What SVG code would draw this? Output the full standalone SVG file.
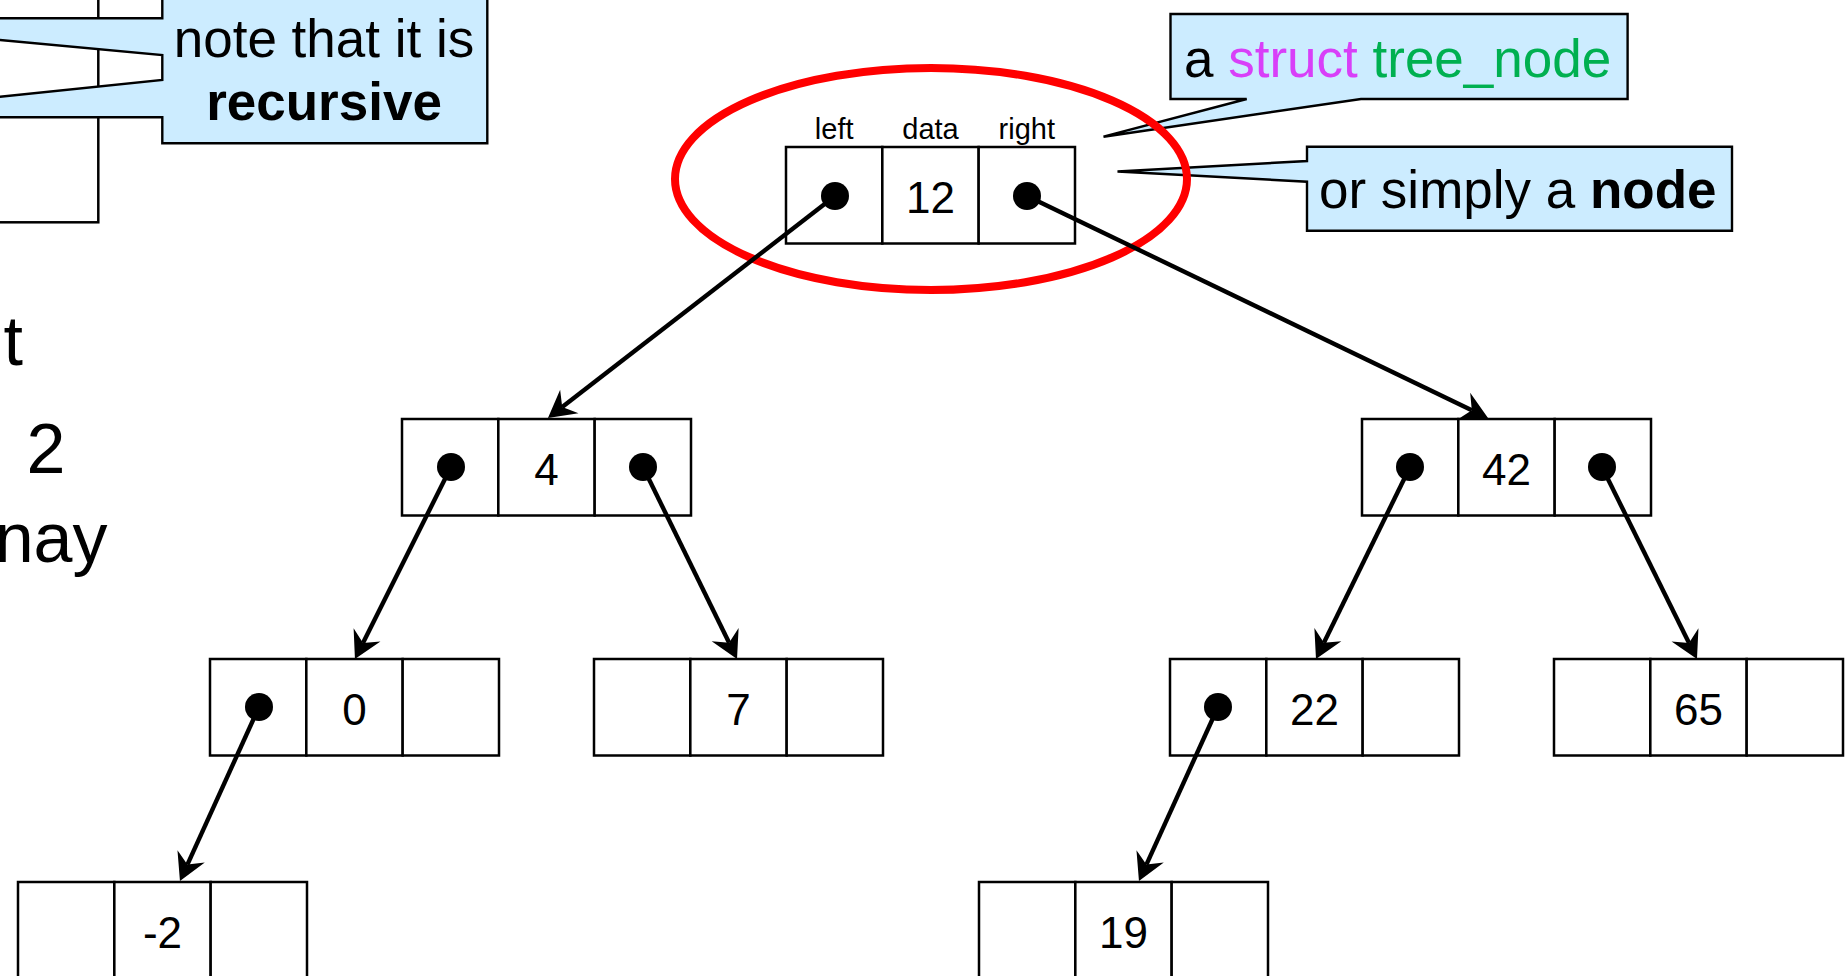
<svg xmlns="http://www.w3.org/2000/svg" width="1845" height="976" viewBox="0 0 1845 976">
  <style>
    .cell { fill: #ffffff; stroke: #000000; stroke-width: 2.5; }
    .val { font-family: "Liberation Sans", Arial, sans-serif; font-size: 44px; text-anchor: middle; fill: #000000; }
    .field { font-family: "Liberation Sans", Arial, sans-serif; font-size: 29px; text-anchor: middle; fill: #000000; }
    .dot { fill: #000000; }
    .conn { fill: none; stroke: #000000; stroke-width: 4.4; marker-end: url(#arrow); }
    .callout { fill: #CCECFF; stroke: #000000; stroke-width: 2.4; stroke-linejoin: miter; }
    .ctext { font-family: "Liberation Sans", Arial, sans-serif; font-size: 53px; fill: #000000; }
    .side { font-family: "Liberation Sans", Arial, sans-serif; font-size: 70px; fill: #000000; text-anchor: end; }
    .kw { fill: #D83FF8; }
    .ty { fill: #00B050; }
    .bold { font-weight: bold; }
  </style>
  <defs>
    <!-- stealth-style arrowhead; reference point sits at the notch -->
    <marker id="arrow" markerUnits="userSpaceOnUse" viewBox="-20 -20 50 40" markerWidth="50" markerHeight="40" refX="0" refY="0" orient="auto" overflow="visible">
      <path d="M18,0 L-9,-15 L0,0 L-9,15 Z" fill="#000000"/>
    </marker>
    <g id="cells">
      <rect class="cell" x="0" y="0" width="96.33" height="96.5"/>
      <rect class="cell" x="96.33" y="0" width="96.33" height="96.5"/>
      <rect class="cell" x="192.67" y="0" width="96.33" height="96.5"/>
    </g>
  </defs>

  <!-- left column: partially visible struct box and text -->
  <g id="left-panel">
    <rect class="cell" x="-10" y="-10" width="108.3" height="232.3"/>
    <text class="side" x="23" y="365">t</text>
    <text class="side" x="65.5" y="473">2</text>
    <text class="side" x="107.5" y="562">nay</text>
  </g>

  <!-- callout with two tails pointing off to the left -->
  <g id="callout-recursive">
    <path class="callout" d="M162.3,-20 H487.3 V143.3 H162.3 V117.3 L-200,117.3 L162.3,80 V55 L-234,18.3 L162.3,18.3 Z"/>
    <text class="ctext" x="324" y="57" text-anchor="middle">note that it is</text>
    <text class="ctext bold" x="324" y="120" text-anchor="middle">recursive</text>
  </g>

  <g id="callout-struct">
    <path class="callout" d="M1170.5,14 H1627.6 V99 H1361 L1103.5,136.7 L1246.7,99 H1170.5 Z"/>
    <text class="ctext" x="1184" y="76.7">a <tspan class="kw">struct</tspan> <tspan class="ty">tree_node</tspan></text>
  </g>

  <g id="callout-node">
    <path class="callout" d="M1307,146.7 H1732 V230.7 H1307 V181.7 L1117.5,171.5 L1307,161 Z"/>
    <text class="ctext" x="1319" y="208">or simply a <tspan class="bold">node</tspan></text>
  </g>

  <!-- highlight around the root node -->
  <ellipse id="highlight" cx="931" cy="179" rx="256" ry="111" fill="none" stroke="#FF0000" stroke-width="8"/>

  <!-- tree nodes: left | data | right -->
  <g id="node-12" transform="translate(786,147)">
    <use href="#cells"/>
    <text class="field" x="48.2" y="-8">left</text>
    <text class="field" x="144.5" y="-8">data</text>
    <text class="field" x="240.8" y="-8">right</text>
    <text class="val" x="144.5" y="66">12</text>
    <circle class="dot" cx="49" cy="49" r="14"/>
    <circle class="dot" cx="241" cy="49" r="14"/>
  </g>

  <g id="node-4" transform="translate(402,419)">
    <use href="#cells"/>
    <text class="val" x="144.5" y="66">4</text>
    <circle class="dot" cx="49" cy="48" r="14"/>
    <circle class="dot" cx="241" cy="48" r="14"/>
  </g>

  <g id="node-42" transform="translate(1362,419)">
    <use href="#cells"/>
    <text class="val" x="144.5" y="66">42</text>
    <circle class="dot" cx="48" cy="48" r="14"/>
    <circle class="dot" cx="240" cy="48" r="14"/>
  </g>

  <g id="node-0" transform="translate(210,659)">
    <use href="#cells"/>
    <text class="val" x="144.5" y="66">0</text>
    <circle class="dot" cx="49" cy="48" r="14"/>
  </g>

  <g id="node-7" transform="translate(594,659)">
    <use href="#cells"/>
    <text class="val" x="144.5" y="66">7</text>
  </g>

  <g id="node-22" transform="translate(1170,659)">
    <use href="#cells"/>
    <text class="val" x="144.5" y="66">22</text>
    <circle class="dot" cx="48" cy="48" r="14"/>
  </g>

  <g id="node-65" transform="translate(1554,659)">
    <use href="#cells"/>
    <text class="val" x="144.5" y="66">65</text>
  </g>

  <g id="node-m2" transform="translate(18,882)">
    <use href="#cells"/>
    <text class="val" x="144.5" y="66">-2</text>
  </g>

  <g id="node-19" transform="translate(979,882)">
    <use href="#cells"/>
    <text class="val" x="144.5" y="66">19</text>
  </g>

  <!-- pointer connectors -->
  <g id="connectors">
    <path class="conn" d="M835,196 L562.2,407"/>
    <path class="conn" d="M1027,196 L1471.8,410.2"/>
    <path class="conn" d="M451,467 L363,642.9"/>
    <path class="conn" d="M643,467 L729.1,642.8"/>
    <path class="conn" d="M1410,467 L1323.9,642.8"/>
    <path class="conn" d="M1602,467 L1689,642.9"/>
    <path class="conn" d="M259,707 L187.4,864.6"/>
    <path class="conn" d="M1218,707 L1146.4,864.6"/>
  </g>
</svg>
